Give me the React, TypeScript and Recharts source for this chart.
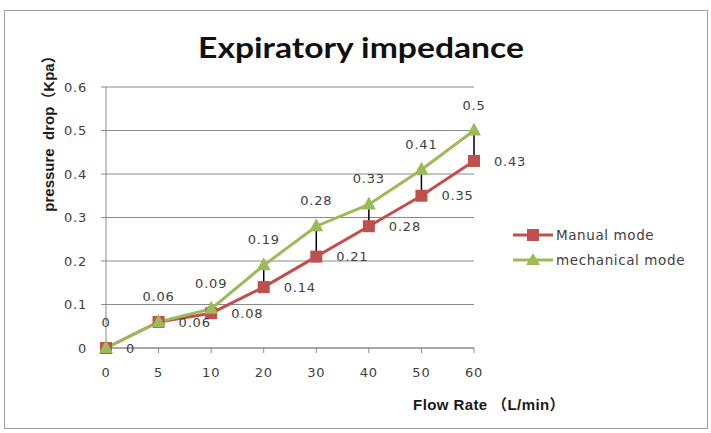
import { LineChart, Line, XAxis, YAxis, CartesianGrid, LabelList, ErrorBar } from 'recharts';

const flowRates = ['0', '5', '10', '20', '30', '40', '50', '60'];
const manualMode = [0, 0.06, 0.08, 0.14, 0.21, 0.28, 0.35, 0.43];
const mechanicalMode = [0, 0.06, 0.09, 0.19, 0.28, 0.33, 0.41, 0.5];
const yTicks = [0, 0.1, 0.2, 0.3, 0.4, 0.5, 0.6];

const RED = '#C0504D';
const GREEN = '#9BBB59';
const TEXT = '#404040';
const AXIS = '#8a8a8a';
const FONT = '"DejaVu Sans", Verdana, sans-serif';
const BOLD_FONT = '"Liberation Sans", Arial, "Noto Sans CJK SC", sans-serif';
const CJK_FONT = '"Noto Sans CJK SC", sans-serif';

// high-low style gap between the two modes, hung below the mechanical point
const data = flowRates.map((f, i) => ({
  flow: f,
  manual: manualMode[i],
  mechanical: mechanicalMode[i],
  gap: [Math.max(0, +(mechanicalMode[i] - manualMode[i]).toFixed(2)), 0],
}));

const tickStyle = { fill: TEXT, fontSize: 13, fontFamily: FONT, letterSpacing: 0.8 };

const axisTitle: React.CSSProperties = {
  position: 'absolute',
  fontFamily: BOLD_FONT,
  fontWeight: 700,
  fontSize: 15,
  color: '#1a1a1a',
  whiteSpace: 'pre',
};

function SquareDot(p: any) {
  if (p.cx == null || p.cy == null) return <g key={`s-${p.index}`} />;
  return <rect key={`s-${p.index}`} x={p.cx - 6} y={p.cy - 6} width={12} height={12} fill={RED} />;
}

function TriangleDot(p: any) {
  if (p.cx == null || p.cy == null) return <g key={`t-${p.index}`} />;
  const { cx, cy } = p;
  return (
    <path
      key={`t-${p.index}`}
      d={`M${cx},${cy - 8} L${cx + 7},${cy + 5} L${cx - 7},${cy + 5} Z`}
      fill={GREEN}
    />
  );
}

function LegendRow({ color, label, marker }: { color: string; label: string; marker: 'square' | 'triangle' }) {
  return (
    <div style={{ display: 'flex', alignItems: 'center', height: 25 }}>
      <svg width={40} height={16} style={{ marginRight: 3 }}>
        <line x1={0} y1={8} x2={40} y2={8} stroke={color} strokeWidth={3} />
        {marker === 'square' ? (
          <rect x={14} y={2} width={12} height={12} fill={color} />
        ) : (
          <path d="M20,1 L27,13 L13,13 Z" fill={color} />
        )}
      </svg>
      <span style={{ fontFamily: FONT, fontSize: 13.5, color: TEXT, letterSpacing: 0.6 }}>{label}</span>
    </div>
  );
}

export default function App() {
  return (
    <div style={{ position: 'absolute', left: 0, top: 0, width: 711, height: 433, background: '#fff' }}>
      <div
        style={{
          position: 'absolute',
          left: 4,
          top: 10,
          width: 704,
          height: 419,
          border: '1px solid #a0a0a0',
          boxSizing: 'border-box',
        }}
      />
      <div
        style={{
          position: 'absolute',
          left: 361,
          top: 46,
          transform: 'translate(-50%, -50%) scaleX(1.16)',
          fontFamily: 'Lato, "Open Sans", sans-serif',
          fontWeight: 700,
          fontSize: 29,
          color: '#111',
          whiteSpace: 'nowrap',
        }}
      >
        Expiratory impedance
      </div>
      <div style={{ ...axisTitle, left: 47, top: 130, transform: 'translate(-50%, -50%) rotate(-90deg)' }}>
        {'pressure  drop'}
        <span style={{ fontFamily: CJK_FONT }}>（</span>
        {'Kpa'}
        <span style={{ fontFamily: CJK_FONT }}>）</span>
      </div>
      <div style={{ ...axisTitle, left: 489, top: 403, transform: 'translate(-50%, -50%)', letterSpacing: 0.4 }}>
        {'Flow Rate '}
        <span style={{ fontFamily: CJK_FONT }}>（</span>
        {'L/min'}
        <span style={{ fontFamily: CJK_FONT }}>）</span>
      </div>
      <div style={{ position: 'absolute', left: 513, top: 222 }}>
        <LegendRow color={RED} label="Manual mode" marker="square" />
        <LegendRow color={GREEN} label="mechanical mode" marker="triangle" />
      </div>
      <div style={{ position: 'absolute', left: 0, top: 0 }}>
        <LineChart width={711} height={433} data={data} margin={{ top: 87, right: 237, left: 46, bottom: 55 }}>
          <CartesianGrid vertical={false} stroke={AXIS} strokeWidth={1} />
          <XAxis
            dataKey="flow"
            height={30}
            tick={tickStyle}
            tickSize={5}
            tickMargin={15}
            axisLine={{ stroke: AXIS }}
            tickLine={{ stroke: AXIS }}
          />
          <YAxis
            width={60}
            domain={[0, 0.6]}
            ticks={yTicks}
            tick={tickStyle}
            tickSize={5}
            tickMargin={14}
            axisLine={{ stroke: AXIS }}
            tickLine={{ stroke: AXIS }}
          />
          <Line
            dataKey="manual"
            stroke={RED}
            strokeWidth={3}
            dot={SquareDot}
            activeDot={false}
            isAnimationActive={false}
          >
            <LabelList dataKey="manual" position="right" offset={20} style={tickStyle} />
          </Line>
          <Line
            dataKey="mechanical"
            stroke={GREEN}
            strokeWidth={3}
            dot={TriangleDot}
            activeDot={false}
            isAnimationActive={false}
          >
            <ErrorBar dataKey="gap" width={0} stroke="#000" strokeWidth={1.5} direction="y" />
            <LabelList dataKey="mechanical" position="top" offset={21} style={tickStyle} />
          </Line>
        </LineChart>
      </div>
    </div>
  );
}
